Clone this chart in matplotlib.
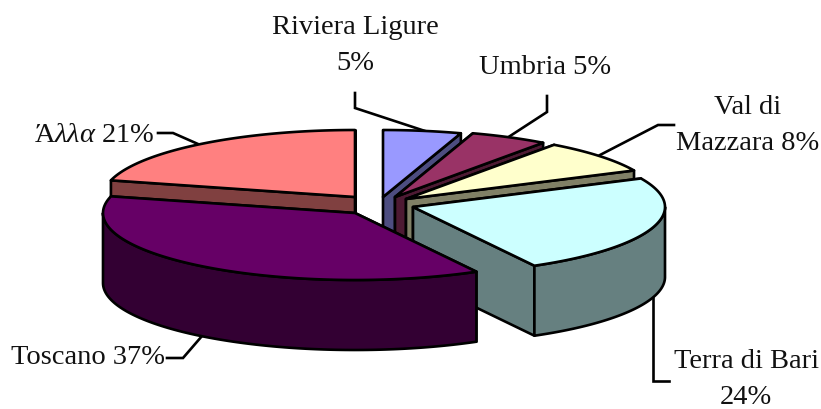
import numpy as np
import matplotlib
matplotlib.use("Agg")
import matplotlib.pyplot as plt
from matplotlib.patches import Polygon

plt.rcParams['font.family'] = ['Liberation Serif', 'DejaVu Serif']
plt.rcParams['mathtext.fontset'] = 'custom'
plt.rcParams['mathtext.it'] = 'Liberation Serif:italic'
plt.rcParams['mathtext.rm'] = 'Liberation Serif'

# Data
labels = ['Riviera Ligure', 'Umbria', 'Val di Mazzara', 'Terra di Bari', 'Toscano', 'Άλλα']
values = [5, 5, 8, 24, 37, 21]
top_colors = ['#9999FF', '#993366', '#FFFFCC', '#CCFFFF', '#660066', '#FF8080']
side_colors = ['#4D4D80', '#4D1A33', '#808066', '#668080', '#330033', '#804040']

# Exploded slice centres in pixels
centers = [(383, 197), (395, 197), (406, 199), (413, 207), (355, 213), (355, 197)]
rx = 252
ry = 67
depth = 70
lw = 1.9

# Back slices are painted first, Toscano last
draw_order = [5, 0, 1, 2, 3, 4]

# Leader lines
leaders = [
    [(355, 93), (355, 108), (425, 131)],
    [(547, 96), (547, 112), (507, 138)],
    [(674, 125), (658, 125), (600, 155)],
    [(158, 133), (173, 133), (198, 144)],
    [(167, 358), (183, 358), (202, 336)],
    [(669, 381), (653, 381), (653, 298)],
]

# Texts
texts = [
    ('Riviera Ligure', 355, 27),
    ('5%', 355, 64),
    ('Umbria 5%', 545, 67),
    ('Val di', 748, 107),
    ('Mazzara 8%', 748, 144),
    ('Ά$λλα$ 21%', 94, 135),
    ('Toscano 37%', 88, 358),
    ('Terra di Bari', 746, 361),
    ('24%', 746, 397),
]


def rim(center, t0, t1):
    t = np.radians(np.linspace(t0, t1, 120))
    x = center[0] + rx * np.sin(t)
    y = center[1] - ry * np.cos(t)
    return np.column_stack([x, y])


def add_poly(ax, pts, color):
    ax.add_patch(Polygon(pts, closed=True, facecolor=color, edgecolor='black',
                         linewidth=lw, joinstyle='round'))


fig = plt.figure(figsize=(8.21, 4.09), dpi=100)
ax = fig.add_axes([0, 0, 1, 1])
ax.set_xlim(0, 821)
ax.set_ylim(409, 0)
ax.axis('off')

edges = np.concatenate([[0], np.cumsum(values)]) / sum(values) * 360

for i in draw_order:
    c = centers[i]
    t0 = edges[i]
    t1 = edges[i + 1]
    down = np.array([0, depth])
    apex = np.array(c, dtype=float)

    # Straight cut faces
    for t in [t0, t1]:
        p = rim(c, t, t)[0]
        add_poly(ax, [apex, p, p + down, apex + down], side_colors[i])

    # Outer wall, only the part turned towards the viewer
    a = max(t0, 90)
    b = min(t1, 270)
    if b > a:
        arc = rim(c, a, b)
        add_poly(ax, np.vstack([arc, (arc + down)[::-1]]), side_colors[i])

    # Top face
    add_poly(ax, np.vstack([apex, rim(c, t0, t1)]), top_colors[i])

for pts in leaders:
    ax.plot([p[0] for p in pts], [p[1] for p in pts], color='black', lw=lw,
            solid_joinstyle='miter', zorder=0)

for s, x, y in texts:
    ax.text(x, y, s, ha='center', va='center', fontsize=20.5, color='#111111')

fig.savefig('out.png', dpi=100)
